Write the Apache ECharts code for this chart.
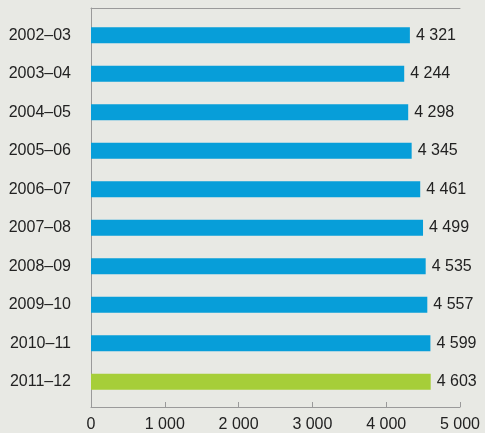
<!DOCTYPE html>
<html><head><meta charset="utf-8">
<script src="https://cdn.jsdelivr.net/npm/echarts@6/dist/echarts.min.js"></script>
<style>html,body{margin:0;padding:0;background:#e8e9e4}#c{width:485px;height:433px}</style>
</head><body><div id="c"></div>
<script>
var categories = ['2002–03','2003–04','2004–05','2005–06','2006–07','2007–08','2008–09','2009–10','2010–11','2011–12'];
var values = [4321,4244,4298,4345,4461,4499,4535,4557,4599,4603];
var xTicks = [0,1000,2000,3000,4000,5000];
var blue = '#079ed9', green = '#a6ce39';
function fmt(v){return String(v).replace(/\B(?=(\d{3})+(?!\d))/g,' ');}
var font = 'Liberation Sans, Arial, sans-serif';
var axisCol = '#9a9a9a';
var chart = echarts.init(document.getElementById('c'));
chart.setOption({
  backgroundColor:'#e8e9e4',
  animation:false,
  grid:[
    {left:91,right:25,top:8,bottom:19},
    {left:91,right:25,top:16,bottom:32}
  ],
  xAxis:[
    {gridIndex:0,type:'value',min:xTicks[0],max:xTicks[xTicks.length-1],interval:1000,position:'bottom',
     axisLine:{show:true,lineStyle:{color:axisCol,width:1}},
     axisTick:{show:true,inside:true,length:5,lineStyle:{color:axisCol}},
     axisLabel:{color:'#222',fontFamily:font,fontSize:16,margin:10,formatter:fmt},
     splitLine:{show:false}},
    {gridIndex:0,type:'value',min:0,max:5000,position:'top',
     axisLine:{show:true,lineStyle:{color:axisCol,width:1}},
     axisTick:{show:false},axisLabel:{show:false},splitLine:{show:false}},
    {gridIndex:1,type:'value',min:0,max:5000,show:false,splitLine:{show:false}}
  ],
  yAxis:[
    {gridIndex:0,type:'value',min:0,max:1,
     axisLine:{show:true,lineStyle:{color:axisCol,width:1}},
     axisTick:{show:false},axisLabel:{show:false},splitLine:{show:false}},
    {gridIndex:1,type:'category',inverse:true,data:categories,
     axisLine:{show:false},axisTick:{show:false},
     axisLabel:{color:'#222',fontFamily:font,fontSize:16,margin:20},
     splitLine:{show:false}}
  ],
  series:[{
    type:'bar',xAxisIndex:2,yAxisIndex:1,barWidth:16,
    data:values.map(function(v,i){return {value:v,itemStyle:{color:i===values.length-1?green:blue}};}),
    label:{show:true,position:'right',distance:6,color:'#222',fontFamily:font,fontSize:16,
      formatter:function(p){return fmt(p.value);}}
  }]
});
</script></body></html>
